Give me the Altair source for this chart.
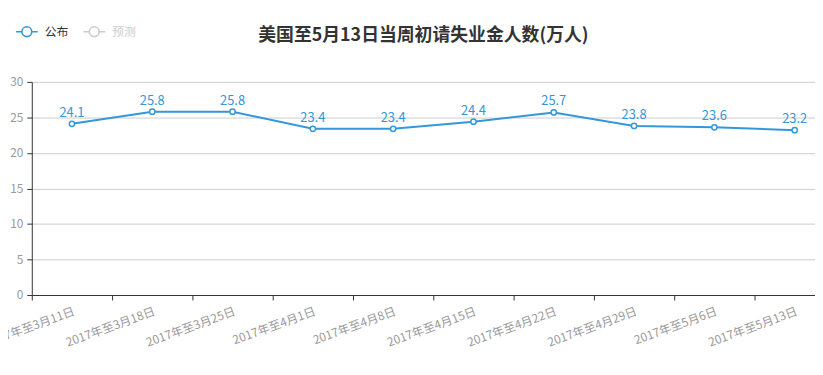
import altair as alt
import pandas as pd

dates = ["2017年至3月11日", "2017年至3月18日", "2017年至3月25日", "2017年至4月1日",
         "2017年至4月8日", "2017年至4月15日", "2017年至4月22日", "2017年至4月29日",
         "2017年至5月6日", "2017年至5月13日"]
values = [24.1, 25.8, 25.8, 23.4, 23.4, 24.4, 25.7, 23.8, 23.6, 23.2]
series_names = ["公布", "预测"]
series_colors = ["#3398DB", "#cccccc"]
y_ticks = [0, 5, 10, 15, 20, 25, 30]

df = pd.DataFrame({"date": dates, "value": values, "series": ["公布"] * len(dates)})

FONT = "Noto Sans CJK SC"
BLUE = series_colors[0]

legend_path = ("M-1,0L-0.45,0M0.45,0A0.45,0.45,0,1,1,-0.45,0A0.45,0.45,0,1,1,0.45,0"
               "M0.45,0L1,0")

x = alt.X("date:N", sort=dates, title=None,
          scale=alt.Scale(range=[0, 810], paddingInner=0, paddingOuter=0),
          axis=alt.Axis(labelAngle=340, labelAlign="right", labelBaseline="top",
                        labelColor="#999999", labelFontSize=12, labelFont=FONT,
                        labelPadding=6, tickBand="extent", tickSize=5,
                        tickColor="#333333", domainColor="#333333", grid=False,
                        labelOverlap=False))
y = alt.Y("value:Q", title=None,
          scale=alt.Scale(domain=[0, 30], nice=False),
          axis=alt.Axis(values=y_ticks, labelColor="#999999", labelFontSize=12,
                        labelFont=FONT, tickSize=5, tickColor="#333333",
                        domainColor="#333333", gridColor="#cccccc", labelPadding=4))
color = alt.Color("series:N",
                  scale=alt.Scale(domain=series_names, range=series_colors),
                  legend=alt.Legend(title=None, orient="none", legendX=-17, legendY=-63,
                                    direction="horizontal", symbolType=legend_path,
                                    symbolSize=484, symbolStrokeWidth=1.6,
                                    symbolFillColor="white", labelFont=FONT,
                                    labelFontSize=12, labelOffset=6, columnPadding=10,
                                    padding=0,
                                    labelColor=alt.expr("datum.value == '预测' ? '#cccccc' : '#333333'")))

base = alt.Chart(df).encode(x=x, y=y)

line = base.mark_line(strokeWidth=2).encode(color=color)
pts = base.mark_point(shape="circle", size=28, filled=True, fill="white",
                      strokeWidth=1.5, opacity=1).encode(
    stroke=alt.Stroke("series:N", scale=alt.Scale(domain=series_names, range=series_colors),
                      legend=None))
labels = base.mark_text(dy=-11, fontSize=13, font=FONT, color=BLUE).encode(
    text=alt.Text("value:Q", format=".1f"))

chart = alt.layer(line, pts, labels).properties(
    width=790, height=215,
    autosize=alt.AutoSizeParams(type="none"),
    padding={"left": 24, "top": 73, "right": 0, "bottom": 60},
    title=alt.Title("美国至5月13日当周初请失业金人数(万人)", fontSize=18, font=FONT,
                    fontWeight="bold", color="#333333", anchor="middle", offset=-26),
).configure_view(stroke=None)

chart.save("out.html", embed_options={"renderer": "svg", "actions": False})
